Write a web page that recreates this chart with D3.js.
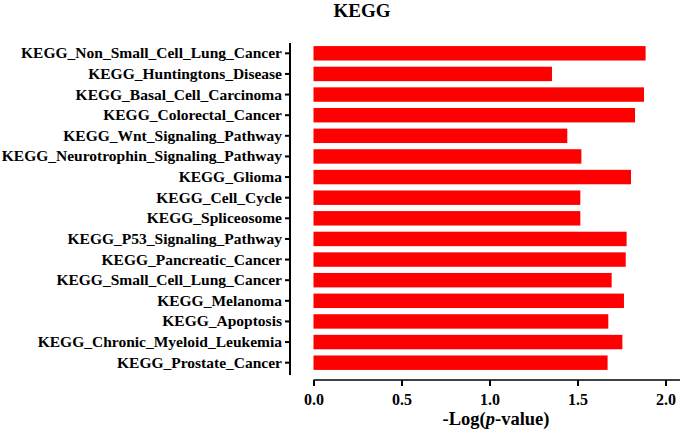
<!DOCTYPE html>
<html><head><meta charset="utf-8">
<script src="https://cdn.jsdelivr.net/npm/d3@7"></script>
<style>body{margin:0;background:#fff;} svg{display:block;} svg text{font-family:"Liberation Serif","Times New Roman",serif !important;font-weight:bold;fill:#000;}</style>
</head><body>
<svg id="c" width="685" height="434"></svg>
<script>
const categories = ["KEGG_Non_Small_Cell_Lung_Cancer","KEGG_Huntingtons_Disease","KEGG_Basal_Cell_Carcinoma","KEGG_Colorectal_Cancer","KEGG_Wnt_Signaling_Pathway","KEGG_Neurotrophin_Signaling_Pathway","KEGG_Glioma","KEGG_Cell_Cycle","KEGG_Spliceosome","KEGG_P53_Signaling_Pathway","KEGG_Pancreatic_Cancer","KEGG_Small_Cell_Lung_Cancer","KEGG_Melanoma","KEGG_Apoptosis","KEGG_Chronic_Myeloid_Leukemia","KEGG_Prostate_Cancer"];
const values = [1.887,1.355,1.878,1.827,1.442,1.522,1.804,1.516,1.516,1.779,1.774,1.694,1.764,1.675,1.755,1.671];
const xTicks = [0.0,0.5,1.0,1.5,2.0];
const title = "KEGG";

const svg = d3.select("#c");
const x = d3.scaleLinear().domain([0,2.0]).range([313.5,665.5]);
const y = d3.scaleBand().domain(categories).range([43,373]).paddingInner(0.3).paddingOuter(0.15);

svg.selectAll("rect.bar").data(categories).enter().append("rect")
  .attr("x", x(0)).attr("y", d=>y(d))
  .attr("width", (d,i)=>x(values[i])-x(0)).attr("height", y.bandwidth())
  .attr("fill","#ff0000");

// y axis
const ya = svg.append("g").attr("transform","translate(290,0)")
  .call(d3.axisLeft(y).tickSize(5).tickPadding(3));
ya.select(".domain").attr("stroke","#000").attr("stroke-width",2).attr("d","M0,43V375");
ya.selectAll(".tick line").attr("stroke-width",2);
ya.selectAll("text").style("font-size","15.5px");

// x axis
const xa = svg.append("g").attr("transform","translate(0,380)")
  .call(d3.axisBottom(x).tickValues(xTicks).tickFormat(d3.format(".1f")).tickSize(6).tickPadding(8));
xa.select(".domain").attr("stroke","#000").attr("stroke-width",1.5).attr("d","M"+x(0)+",0H680");
xa.selectAll(".tick line").attr("stroke-width",2);
xa.selectAll("text").style("font-size","16px");

// title
svg.append("text").attr("x",362).attr("y",17).attr("text-anchor","middle")
  .style("font-size","19px").text(title);

// x axis title
const xt = svg.append("text").attr("x",496).attr("y",425).attr("text-anchor","middle")
  .style("font-size","18.5px");
xt.append("tspan").text("-Log(");
xt.append("tspan").style("font-style","italic").text("p");
xt.append("tspan").text("-value)");
</script>
</body></html>
